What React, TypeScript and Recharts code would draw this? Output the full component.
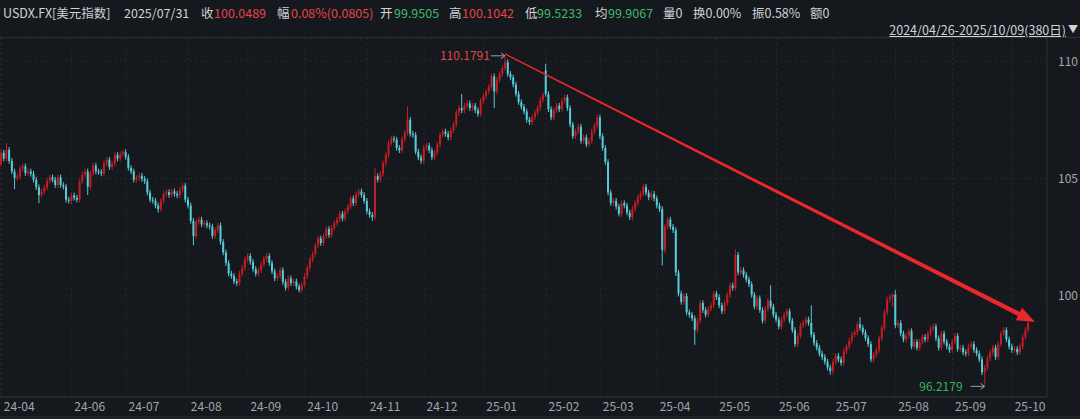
import { Bar, CartesianGrid, ComposedChart, ReferenceDot, ReferenceLine, XAxis, YAxis } from "recharts";

// daily closes
const closesA = [106.1, 105.85, 106.22, 105.75, 105.3, 105.02, 105.08, 105.42, 105.52, 105.23, 105.3, 105.2, 104.95, 104.63, 104.3, 104.45, 104.62, 104.9, 105.05, 104.95, 104.72, 105.05, 104.72, 104.65, 104.1];
const closesB = [104.05, 104.28, 104.18, 104.1, 104.88, 105.18, 105.3, 104.65, 105.22, 105.55, 105.3, 105.28, 105.22, 105.65, 105.8, 105.48, 105.62, 106.0, 105.85, 106.05];
const closesC = [106.12, 105.92, 105.45, 105.3, 104.95, 105.02, 105.12, 104.98, 104.88, 104.4, 104.1, 104.05, 103.85, 103.7, 104.05, 104.35, 104.42, 104.3, 104.45, 104.35, 104.28, 104.52];
const closesD = [104.7, 104.1, 103.85, 103.2, 102.55, 103.15, 103.25, 103.05, 103.1, 103.0, 102.95, 102.55, 102.8, 103.0, 102.3, 101.85, 101.4, 100.95, 100.85, 100.62, 100.55, 100.95];
const closesE = [101.2, 101.55, 101.7, 101.45, 101.15, 100.95, 101.1, 101.35, 101.58, 101.7, 101.4, 101.05, 100.75, 100.85, 101.1, 100.6, 100.35, 100.75, 100.55, 100.62, 100.4];
const closesF = [100.25, 100.48, 100.85, 101.2, 101.55, 101.78, 102.15, 102.45, 102.25, 102.55, 102.85, 102.6, 102.9, 103.1, 103.25, 103.5, 103.3, 103.6, 103.8, 104.15, 103.95, 104.35];
const closesG = [104.45, 104.3, 104.05, 103.6, 103.45, 103.35, 105.1, 104.95, 105.2, 105.65, 106.0, 106.5, 106.7, 106.65, 106.3, 106.2, 106.68, 106.95, 107.5];
const closesH = [106.9, 106.85, 106.15, 105.9, 105.75, 106.3, 106.4, 106.2, 105.9, 106.1, 106.45, 106.85, 107.0, 106.9, 106.75, 107.05, 107.3, 107.8, 108.0, 107.9, 108.1, 108.2];
const closesI = [108.0, 108.1, 107.9, 107.75, 108.3, 108.5, 108.7, 108.9, 109.35, 108.7, 109.2, 109.45, 109.7, 109.95, 109.45, 109.3, 109.0, 108.6, 108.25, 108.05, 107.85, 107.5, 107.4, 107.6, 107.8, 108.0, 108.35, 108.55];
const closesJ = [108.6, 107.95, 107.6, 107.9, 108.1, 107.95, 108.3, 108.45, 108.0, 107.3, 106.8, 107.0, 107.2, 106.6, 106.75, 106.45, 106.6, 107.0, 107.25, 107.6];
const closesK = [106.8, 106.3, 105.7, 104.4, 103.95, 104.05, 103.8, 103.5, 103.95, 103.85, 103.55, 103.35, 103.7, 103.95, 104.2, 104.35, 104.65, 104.4, 104.2, 104.35];
const closesL = [104.15, 103.85, 103.7, 101.95, 102.95, 103.25, 102.95, 102.8, 101.0, 100.1, 99.75, 100.0, 99.3, 99.2, 99.05, 98.55, 98.95, 99.7, 99.4, 99.2];
const closesM = [99.45, 99.6, 100.1, 99.95, 99.6, 99.35, 99.7, 100.05, 100.45, 100.35, 101.75, 101.0, 101.1, 100.9, 100.7, 100.5, 100.05, 99.55, 99.9, 99.4, 98.95, 99.45];
const closesN = [99.8, 99.55, 99.2, 99.0, 98.7, 99.0, 99.2, 99.35, 98.95, 98.55, 97.95, 98.3, 98.75, 98.85, 99.0, 98.85, 98.35, 98.0, 97.8, 97.55];
const closesO = [97.4, 97.2, 96.95, 96.8, 97.2, 97.45, 97.3, 97.15, 97.65, 97.85, 98.1, 98.35, 98.45, 98.8, 98.65, 98.45, 98.2, 97.95, 97.3, 97.5, 97.7, 98.2, 98.65];
const closesP = [99.3, 99.85, 99.95, 100.05, 98.75, 98.85, 98.4, 98.15, 98.3, 98.5, 97.85, 98.05, 97.8, 98.05, 98.25, 98.15, 98.4, 98.6, 98.7, 98.2, 97.8];
const closesQ = [98.4, 98.05, 97.85, 97.7, 98.05, 98.3, 97.75, 97.8, 97.6, 97.55, 97.85, 97.95, 97.7, 97.55, 97.3, 96.75, 96.95, 97.35, 97.6, 97.8, 97.4];
const closesR = [97.95, 98.4, 98.55, 98.15, 97.85, 97.7, 97.75, 97.6, 97.85, 98.25, 98.55, 98.85];

const firstOpen = 105.62;
// [index, value] where the bar does not simply follow the previous close / short wick
const gapOpens: [number, number][] = [[201, 109.6]];
const highMarks: [number, number][] = [
  [2, 106.51], [138, 105.44], [150, 108.07], [170, 108.6], [186, 110.1791], [201, 109.88],
  [271, 101.98], [284, 100.45], [299, 99.6], [317, 99.1], [329, 100.1042], [330, 100.25],
];
const lowMarks: [number, number][] = [
  [5, 104.55], [14, 103.95], [32, 104.3], [58, 103.55], [71, 102.16], [110, 100.15], [137, 103.2],
  [182, 108.0], [244, 101.3], [249, 100.85], [256, 97.92], [306, 96.65], [329, 99.5233], [363, 96.2179],
];
const wickPad = 0.12;

const tickIndex = [0, 26, 46, 69, 91, 112, 135, 156, 178, 201, 221, 242, 264, 286, 307, 330, 351, 373];
const tickLabels = ["24-04", "24-06", "24-07", "24-08", "24-09", "24-10", "24-11", "24-12", "25-01", "25-02", "25-03", "25-04", "25-05", "25-06", "25-07", "25-08", "25-09", "25-10"];
const priceTicks = [100, 105, 110];

const maxPoint = { i: 186, v: 110.1791 };
const minPoint = { i: 363, v: 96.2179 };
const trendFrom = { i: 185.8, v: 110.3 };
const trendTo = { i: 381.4, v: 98.89 };

const header: [string, string, number][] = [
  ["USDX.FX[美元指数]", "#cfd2d6", 3],
  ["2025/07/31", "#cfd2d6", 124],
  ["收", "#cfd2d6", 201],
  ["100.0489", "#e8434b", 214],
  ["幅", "#cfd2d6", 277],
  ["0.08%(0.0805)", "#e8434b", 291],
  ["开", "#cfd2d6", 380],
  ["99.9505", "#3dbb68", 394],
  ["高", "#cfd2d6", 449],
  ["100.1042", "#e8434b", 462],
  ["低", "#cfd2d6", 525],
  ["99.5233", "#3dbb68", 537],
  ["均", "#cfd2d6", 595],
  ["99.9067", "#3dbb68", 608],
  ["量0", "#cfd2d6", 663],
  ["换0.00%", "#cfd2d6", 693],
  ["振0.58%", "#cfd2d6", 752],
  ["额0", "#cfd2d6", 810],
];

const RED = "#c41d25";
const CYAN = "#56ccd7";
const BG = "#15181d";
const FONT = '"Noto Sans CJK SC", "Noto Sans", sans-serif';

const closes = [
  ...closesA, ...closesB, ...closesC, ...closesD, ...closesE, ...closesF, ...closesG, ...closesH, ...closesI,
  ...closesJ, ...closesK, ...closesL, ...closesM, ...closesN, ...closesO, ...closesP, ...closesQ, ...closesR,
];
const gapMap = new Map(gapOpens);
const highMap = new Map(highMarks);
const lowMap = new Map(lowMarks);

const rows = closes.map((c, i) => {
  const o = i === 0 ? firstOpen : gapMap.get(i) ?? closes[i - 1];
  const h = highMap.get(i) ?? Math.max(o, c) + wickPad;
  const l = lowMap.get(i) ?? Math.min(o, c) - wickPad;
  return { i, o, h, l, c, range: [l, h] };
});

function Candle(props: any) {
  const { x, y, width, height, payload } = props;
  if (!payload) return null;
  const { o, h, l, c } = payload;
  const color = c >= o ? RED : CYAN;
  const top = Math.min(y, y + height);
  const full = Math.abs(height);
  const ppu = full / (h - l || 1);
  const cx = x + width / 2;
  const bodyTop = top + (h - Math.max(o, c)) * ppu;
  const bodyH = Math.max(1, Math.abs(o - c) * ppu);
  return (
    <g>
      <line x1={cx} x2={cx} y1={top} y2={top + full} stroke={color} strokeWidth={1} />
      <rect x={cx - 1} y={bodyTop} width={2} height={bodyH} fill={color} />
    </g>
  );
}

function TrendArrow(props: any) {
  const { x1, y1, x2, y2 } = props;
  const dx = x2 - x1;
  const dy = y2 - y1;
  const len = Math.hypot(dx, dy);
  const ux = dx / len;
  const uy = dy / len;
  const nx = -uy;
  const ny = ux;
  const head = 18;
  const hw = 7;
  const bx = x2 - ux * head;
  const by = y2 - uy * head;
  const pts = [
    [x1 + nx * 0.7, y1 + ny * 0.7],
    [bx + nx * 2.2, by + ny * 2.2],
    [bx + nx * hw, by + ny * hw],
    [x2, y2],
    [bx - nx * hw, by - ny * hw],
    [bx - nx * 2.2, by - ny * 2.2],
    [x1 - nx * 0.7, y1 - ny * 0.7],
  ];
  return <polygon points={pts.map((p) => p.join(",")).join(" ")} fill="#e8282b" />;
}

function markLabel(text: string, color: string, gap: number, arrowLen: number, dy: number) {
  return (props: any) => {
    const { cx } = props;
    const cy = props.cy + dy;
    const ax2 = cx - 0.5;
    const ax1 = ax2 - arrowLen;
    return (
      <g>
        <text x={ax1 - gap} y={cy + 4.5} fill={color} fontSize={12} fontFamily={FONT} textAnchor="end">
          {text}
        </text>
        <line x1={ax1} x2={ax2} y1={cy} y2={cy} stroke="#9aa0a8" strokeWidth={1} />
        <path d={`M${ax2 - 4},${cy - 3} L${ax2},${cy} L${ax2 - 4},${cy + 3}`} stroke="#9aa0a8" fill="none" strokeWidth={1} />
      </g>
    );
  };
}

function DateTick(props: any) {
  const { x, y, payload } = props;
  const k = tickIndex.indexOf(payload.value);
  return (
    <text x={x + 2.5} y={y + 6} fill="#a3a7ad" fontSize={12} fontFamily={FONT} textAnchor="start">
      {tickLabels[k]}
    </text>
  );
}

function PriceTick(props: any) {
  const { x, y, payload } = props;
  return (
    <text x={x + 3} y={y + 4.5} fill="#a3a7ad" fontSize={12} fontFamily={FONT} textAnchor="start">
      {payload.value}
    </text>
  );
}

export default function App() {
  return (
    <div style={{ position: "absolute", left: 0, top: 0, width: 1080, height: 419, background: BG, overflow: "hidden", fontFamily: FONT }}>
      {header.map(([t, col, left]) => (
        <span key={t + left} style={{ position: "absolute", left, top: 3, fontSize: 12.5, color: col, whiteSpace: "nowrap" }}>
          {t}
        </span>
      ))}
      <span style={{ position: "absolute", right: 14, top: 20, fontSize: 12.5, color: "#cfd2d6", textDecoration: "underline", whiteSpace: "nowrap" }}>
        2024/04/26-2025/10/09(380日)
      </span>
      <span style={{ position: "absolute", right: 2, top: 21, fontSize: 10, color: "#cfd2d6" }}>▼</span>
      <div style={{ position: "absolute", left: 0, top: 37, width: 1080, height: 1, background: "#2a2d33" }} />
      <div style={{ position: "absolute", left: 0, top: 38 }}>
        <ComposedChart width={1080} height={381} data={rows} margin={{ top: 0, right: 0, bottom: 0, left: 0 }}>
          <CartesianGrid stroke="#272b31" strokeDasharray="2 3" />
          <XAxis
            type="number"
            dataKey="i"
            domain={[-0.5, 385.85]}
            ticks={tickIndex}
            interval={0}
            height={22}
            axisLine={{ stroke: "#30343a" }}
            tickLine={false}
            tick={<DateTick />}
          />
          <YAxis
            orientation="right"
            type="number"
            domain={[95.7, 110.98]}
            ticks={priceTicks}
            allowDataOverflow
            width={33}
            axisLine={{ stroke: "#2a2d33" }}
            tickLine={false}
            tick={<PriceTick />}
          />
          <Bar dataKey="range" barSize={2} shape={<Candle />} isAnimationActive={false} />
          <ReferenceLine
            segment={[
              { x: trendFrom.i, y: trendFrom.v },
              { x: trendTo.i, y: trendTo.v },
            ]}
            shape={(p: any) => <TrendArrow {...p} />}
          />
          <ReferenceDot x={maxPoint.i} y={maxPoint.v} r={0} shape={markLabel("110.1791", "#e2454d", 1, 14, -1)} />
          <ReferenceDot x={minPoint.i} y={minPoint.v} r={0} shape={markLabel("96.2179", "#33b55e", 8, 14, 1.5)} />
        </ComposedChart>
      </div>
      <div style={{ position: "absolute", left: 0, top: 416, width: 1080, height: 3, background: "#1f2227" }} />
    </div>
  );
}
